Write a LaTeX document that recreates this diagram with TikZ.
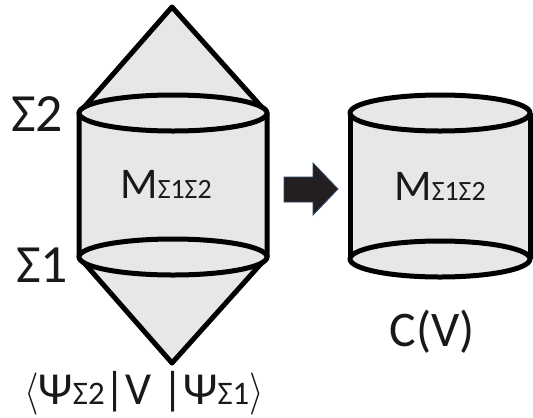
\documentclass[tikz,border=0pt]{standalone}
\usepackage{fontspec}
\setmainfont{Carlito}
\definecolor{shapegrey}{HTML}{E6E7E8}
\definecolor{arrowfill}{HTML}{231F20}
\definecolor{arrowedge}{HTML}{2E4A6B}
\newcommand{\fs}[1]{\fontsize{#1}{#1}\selectfont}
\newcommand{\bigbra}[1]{\scalebox{1.5}[1.7]{$#1$}}
\begin{document}
\begin{tikzpicture}[x=1bp,y=-1bp]
\tikzset{
  outline/.style={draw=black, line width=5bp, line join=round},
  surface/.style={outline, fill=shapegrey},
  lbl/.style={inner sep=0pt, anchor=base, text=black!90}
}
\useasboundingbox (0,0) rectangle (533,417);
% left figure
\coordinate (apexT) at (172,7);
\coordinate (t2L) at (79,113);
\coordinate (t2R) at (267,113);
\coordinate (s1L) at (79,257);
\coordinate (s1R) at (267,257);
\coordinate (apexB) at (172,363);
\fill[shapegrey] (apexT) -- (t2R) -- (s1R) -- (apexB) -- (s1L) -- (t2L) -- cycle;
\draw[outline] (t2L) -- (apexT) -- (t2R) -- (s1R) -- (apexB) -- (s1L) -- cycle;
\draw[surface] (173,113) ellipse [x radius=94, y radius=18];
\draw[surface] (173,257) ellipse [x radius=94, y radius=18];
% right cylinder
\coordinate (rTL) at (350,113);
\coordinate (rTR) at (530,113);
\coordinate (rBL) at (350,259);
\coordinate (rBR) at (530,259);
\fill[shapegrey] (rTL) rectangle (rBR);
\draw[outline] (rTL) -- (rBL);
\draw[outline] (rTR) -- (rBR);
\draw[surface] (440,259) ellipse [x radius=90, y radius=18];
\draw[surface] (440,113) ellipse [x radius=90, y radius=18];
% arrow
\draw[fill=arrowfill, draw=arrowedge, line width=0.8bp] (284,177) -- (313,177) -- (313,163) -- (338,189) -- (313,215) -- (313,202) -- (284,202) -- cycle;
% labels
\node[lbl] (sig2) at (37,131) {\fs{54}Σ2};
\node[lbl] (sig1) at (42,282) {\fs{54}Σ1};
\node[lbl] (mleft) at (166,198) {\fs{44}M\fs{28}Σ1Σ2};
\node[lbl] (mright) at (440,200) {\fs{44}M\fs{28}Σ1Σ2};
\node[lbl] (cv) at (432,346) {\fs{50}C(V)};
\node[lbl] (amp) at (144,404) {\fs{46}\bigbra{\langle}Ψ\fs{33}Σ2\fs{46}|V |Ψ\fs{33}Σ1\fs{46}\bigbra{\rangle}};
\end{tikzpicture}
\end{document}
